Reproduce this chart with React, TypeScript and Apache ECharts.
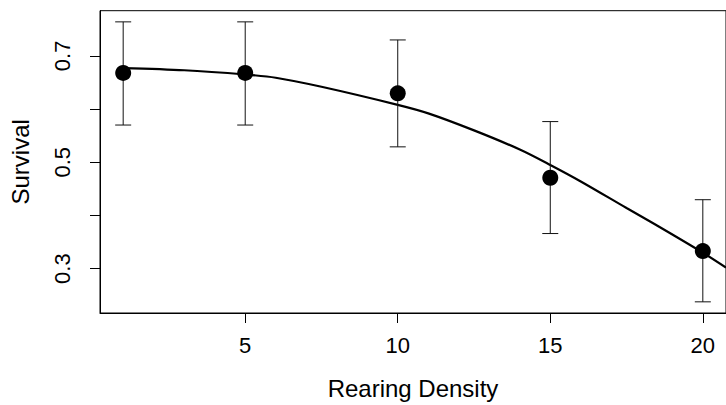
import React, { useEffect, useRef } from "react";
import * as echarts from "echarts";

const densities = [1, 5, 10, 15, 20];
const survival = [0.668, 0.668, 0.6296, 0.471, 0.333];
const upper = [0.764, 0.764, 0.73, 0.5765, 0.4296];
const lower = [0.57, 0.57, 0.529, 0.366, 0.2376];

const curveX = [1, 3, 5, 6, 7.5, 10, 11, 12.5, 14, 15, 16, 17.5, 18.5, 20, 20.76];
const curveY = [0.677, 0.673, 0.665, 0.659, 0.642, 0.608, 0.592, 0.56, 0.524, 0.495, 0.464, 0.414, 0.381, 0.33, 0.302];

const xTicks = [5, 10, 15, 20];
const yTicks = [0.3, 0.4, 0.5, 0.6, 0.7];
const yLabels = [0.3, 0.5, 0.7];

const FONT = "'Liberation Sans', Arial, Helvetica, sans-serif";

export default function App() {
  const ref = useRef<HTMLDivElement>(null);
  useEffect(() => {
    if (!ref.current) return;
    const chart = echarts.init(ref.current, null, { renderer: "svg" });
    const errData = densities.map((d, i) => [d, lower[i], upper[i]]);
    chart.setOption({
      animation: false,
      backgroundColor: "#fff",
      textStyle: { fontFamily: FONT, color: "#000" },
      grid: {
        left: 99.5,
        top: 10.7,
        width: 636,
        height: 307.6,
        show: true,
        borderColor: "#000",
        borderWidth: 1,
        backgroundColor: "transparent",
      },
      xAxis: {
        type: "value",
        min: 0.24,
        max: 20.76,
        splitLine: { show: false },
        axisLine: { show: true, lineStyle: { color: "#000", width: 1 } },
        axisTick: { show: true, customValues: xTicks, length: 10, lineStyle: { color: "#000" } },
        axisLabel: {
          customValues: xTicks,
          fontSize: 22,
          margin: 21,
          color: "#000",
          fontFamily: FONT,
        },
        name: "Rearing Density",
        nameLocation: "middle",
        nameGap: 63,
        nameTextStyle: { fontSize: 24, color: "#000", fontFamily: FONT },
      },
      yAxis: {
        type: "value",
        min: 0.2166,
        max: 0.785,
        splitLine: { show: false },
        axisLine: { show: true, lineStyle: { color: "#000", width: 1 } },
        axisTick: { show: true, customValues: yTicks, length: 10, lineStyle: { color: "#000" } },
        axisLabel: {
          customValues: yLabels,
          rotate: 90,
          fontSize: 22,
          margin: 27,
          color: "#000",
          fontFamily: FONT,
          formatter: (v: number) => v.toFixed(1),
        },
        name: "Survival",
        nameLocation: "middle",
        nameGap: 68,
        nameTextStyle: { fontSize: 24, color: "#000", fontFamily: FONT },
      },
      series: [
        {
          type: "line",
          data: curveX.map((x, i) => [x, curveY[i]]),
          smooth: 0.3,
          symbol: "none",
          lineStyle: { color: "#000", width: 2.2 },
          z: 2,
        },
        {
          type: "custom",
          data: errData,
          z: 3,
          renderItem: (params: any, api: any) => {
            const x = api.value(0);
            const lo = api.coord([x, api.value(1)]);
            const hi = api.coord([x, api.value(2)]);
            const hw = 8;
            const style = { stroke: "#111", lineWidth: 1 };
            return {
              type: "group",
              children: [
                { type: "line", shape: { x1: lo[0], y1: lo[1], x2: hi[0], y2: hi[1] }, style },
                { type: "line", shape: { x1: lo[0] - hw, y1: lo[1], x2: lo[0] + hw, y2: lo[1] }, style },
                { type: "line", shape: { x1: hi[0] - hw, y1: hi[1], x2: hi[0] + hw, y2: hi[1] }, style },
              ],
            };
          },
        },
        {
          type: "scatter",
          data: densities.map((d, i) => [d, survival[i]]),
          symbol: "circle",
          symbolSize: 16,
          itemStyle: { color: "#000", opacity: 1 },
          z: 4,
        },
      ],
    });
    return () => chart.dispose();
  }, []);
  return (
    <div
      ref={ref}
      style={{ position: "fixed", left: 0, top: 0, width: 726, height: 405, background: "#fff" }}
    />
  );
}
